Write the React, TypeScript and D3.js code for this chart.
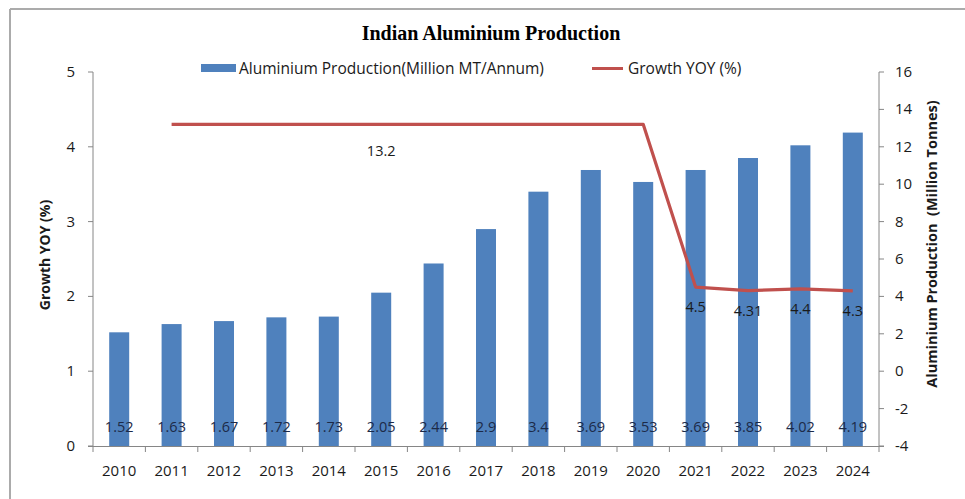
import React from "react";
import * as d3 from "d3";

const years = ["2010","2011","2012","2013","2014","2015","2016","2017","2018","2019","2020","2021","2022","2023","2024"];
const production = [1.52,1.63,1.67,1.72,1.73,2.05,2.44,2.9,3.4,3.69,3.53,3.69,3.85,4.02,4.19];
const growthYears = ["2011","2012","2013","2014","2015","2016","2017","2018","2019","2020","2021","2022","2023","2024"];
const growth = [13.2,13.2,13.2,13.2,13.2,13.2,13.2,13.2,13.2,13.2,4.5,4.31,4.4,4.3];
const growthLabelYears = ["2015","2021","2022","2023","2024"];
const leftTicks = [0,1,2,3,4,5];
const rightTicks = [-4,-2,0,2,4,6,8,10,12,14,16];

const W = 965, H = 499;
const x0 = 93, x1 = 879, yTop = 72, yBot = 446;
const FONT = "'Open Sans', Lato, sans-serif";

export default function App() {
  const x = d3.scaleBand<string>().domain(years).range([x0, x1]).paddingInner(0).paddingOuter(0);
  const yL = d3.scaleLinear().domain([0, 5]).range([yBot, yTop]);
  const yR = d3.scaleLinear().domain([-4, 16]).range([yBot, yTop]);
  const bw = 20;
  const cx = (y: string) => (x(y) as number) + x.bandwidth() / 2;
  const line = d3.line<number>().x((_, i) => cx(growthYears[i])).y(d => yR(d));
  const boundaries = years.map(y => x(y) as number).concat([x1]);

  return (
    <svg width={W} height={H} style={{ position: "absolute", left: 0, top: 0, background: "#fff" }}>
      <rect x={0} y={0} width={W} height={H} fill="#fff" />
      <line x1={10} y1={9} x2={W} y2={9} stroke="#ababab" strokeWidth={2} />
      <line x1={10} y1={9} x2={10} y2={H} stroke="#ababab" strokeWidth={2} />

      <text x={491} y={40} textAnchor="middle" fontFamily="'Liberation Serif', 'DejaVu Serif', serif" fontWeight="bold" fontSize={20} fill="#000">Indian Aluminium Production</text>

      {/* legend */}
      <rect x={201} y={64} width={35} height={8} fill="#4f81bd" />
      <text x={239} y={74} fontFamily={FONT} fontSize={15.5} fill="#1a1a1a">Aluminium Production(Million MT/Annum)</text>
      <line x1={592} y1={68.5} x2={623} y2={68.5} stroke="#c0504d" strokeWidth={3} />
      <text x={628} y={74} fontFamily={FONT} fontSize={15.5} fill="#1a1a1a">Growth YOY (%)</text>

      {/* bars */}
      {years.map((y, i) => (
        <rect key={y} x={cx(y) - bw / 2} y={yL(production[i])} width={bw} height={yBot - yL(production[i])} fill="#4f81bd" />
      ))}
      {years.map((y, i) => (
        <text key={"l" + y} x={cx(y)} y={432} textAnchor="middle" fontFamily={FONT} fontSize={14.5} fill="#1c2a48">{production[i]}</text>
      ))}

      {/* axes */}
      <line x1={x0} y1={yTop} x2={x0} y2={yBot} stroke="#868686" />
      <line x1={x1} y1={yTop} x2={x1} y2={yBot} stroke="#868686" />
      <line x1={x0 - 5} y1={yBot + 0.5} x2={x1 + 5} y2={yBot + 0.5} stroke="#868686" />
      {leftTicks.map(t => (
        <g key={"lt" + t}>
          <line x1={x0 - 5} x2={x0} y1={yL(t)} y2={yL(t)} stroke="#868686" />
          <text x={75} y={yL(t) + 5} textAnchor="end" fontFamily={FONT} fontSize={15} fill="#1a1a1a">{t}</text>
        </g>
      ))}
      {rightTicks.map(t => (
        <g key={"rt" + t}>
          <line x1={x1} x2={x1 + 5} y1={yR(t)} y2={yR(t)} stroke="#868686" />
          <text x={895} y={yR(t) + 5} textAnchor="start" fontFamily={FONT} fontSize={15} fill="#1a1a1a">{t}</text>
        </g>
      ))}
      {boundaries.map((b, i) => (
        <line key={"xb" + i} x1={b} x2={b} y1={yBot} y2={yBot + 6} stroke="#868686" />
      ))}
      {years.map(y => (
        <text key={"xl" + y} x={cx(y)} y={476} textAnchor="middle" fontFamily={FONT} fontSize={15} fill="#1a1a1a">{y}</text>
      ))}

      {/* line */}
      <path d={line(growth) || ""} fill="none" stroke="#c0504d" strokeWidth={3.2} strokeLinejoin="round" />
      {growthYears.map((y, i) => growthLabelYears.includes(y) ? (
        <text key={"g" + y} x={cx(y)} y={yR(growth[i]) + (i < 10 ? 32 : 25)} textAnchor="middle" fontFamily={FONT} fontSize={14.5} fill="#1a1a1a">{growth[i]}</text>
      ) : null)}

      {/* axis titles */}
      <text transform={`translate(50,255) rotate(-90)`} textAnchor="middle" fontFamily={FONT} fontWeight="bold" fontSize={14} fill="#1a1a1a">Growth YOY (%)</text>
      <text transform={`translate(937,244) rotate(-90)`} textAnchor="middle" fontFamily={FONT} fontWeight="bold" fontSize={14.5} fill="#1a1a1a" xmlSpace="preserve">Aluminium Production  (Million Tonnes)</text>
    </svg>
  );
}
